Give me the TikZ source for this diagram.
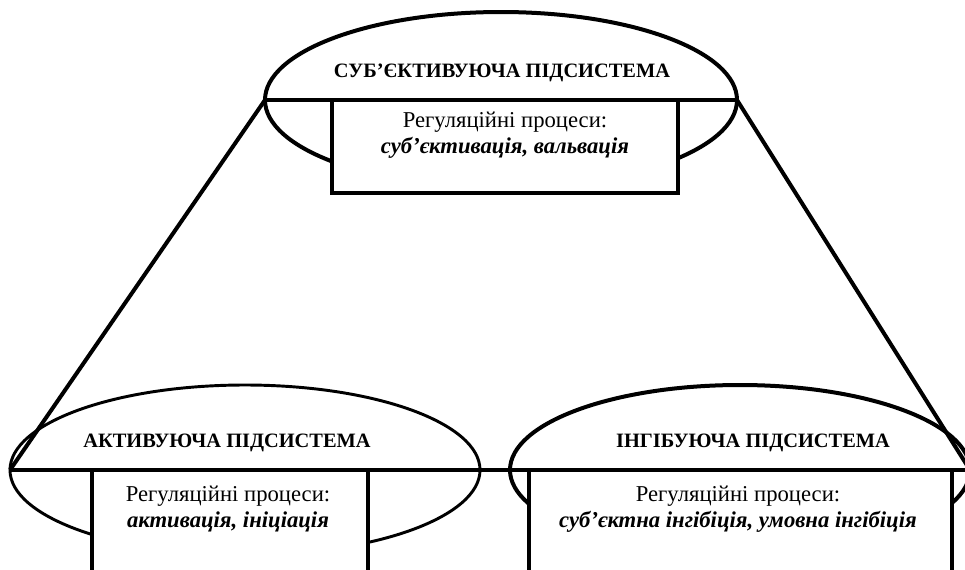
\documentclass[tikz,border=0pt]{standalone}
\usepackage{fontspec}
\setmainfont{Liberation Serif}
\usetikzlibrary{shapes.geometric}

\begin{document}
\begin{tikzpicture}[x=0.75pt,y=-0.75pt,
  subsys/.style={ellipse, draw, line width=3pt, inner sep=0pt, outer sep=0pt},
  procbox/.style={rectangle, draw, fill=white, line width=2.5pt, inner sep=0pt, outer sep=0pt, anchor=north west},
  sysname/.style={font=\fontsize{15.3}{18}\selectfont\bfseries},
  proctext/.style={align=center, font=\fontsize{17}{19.5}\selectfont}]
  \useasboundingbox (0,0) rectangle (965,569);
  \clip (0,0) rectangle (965,569);

  % subsystems
  \node[subsys, minimum width=354pt, minimum height=132pt] (subj) at (501,100) {};
  \node[subsys, line width=2.2pt, minimum width=352.5pt, minimum height=127.5pt] (activ) at (245,470) {};
  \node[subsys, minimum width=345pt, minimum height=127.5pt] (inhib) at (740,470) {};

  % boxes with processes
  \node[procbox, minimum width=259.5pt, minimum height=69.75pt] (subjbox) at (332,100) {};
  \node[procbox, minimum width=207pt, minimum height=90pt] (activbox) at (92,470) {};
  \node[procbox, minimum width=317.25pt, minimum height=90pt] (inhibbox) at (529,470) {};

  \draw[line width=2.5pt] (subj.west) -- (subj.east);
  \draw[line width=2.5pt] (activ.west) -- (inhib.east);
  \draw[line width=3pt] (subj.west) -- (activ.west);
  \draw[line width=3pt] (subj.east) -- (inhib.east);

  \node[sysname] (subjname) at (502,73) {СУБ’ЄКТИВУЮЧА ПІДСИСТЕМА};
  \node[proctext] (subjproc) at (505,135.5) {Регуляційні процеси:\\\textbf{\textit{суб’єктивація, вальвація}}};

  \node[sysname] (activname) at (227,443) {АКТИВУЮЧА ПІДСИСТЕМА};
  \node[proctext] (activproc) at (228,508.5) {Регуляційні процеси:\\\textbf{\textit{активація, ініціація}}};

  \node[sysname] (inhibname) at (753,443) {ІНГІБУЮЧА ПІДСИСТЕМА};
  \node[proctext] (inhibproc) at (738,509) {Регуляційні процеси:\\\textbf{\textit{суб’єктна інгібіція, умовна інгібіція}}};
\end{tikzpicture}
\end{document}
